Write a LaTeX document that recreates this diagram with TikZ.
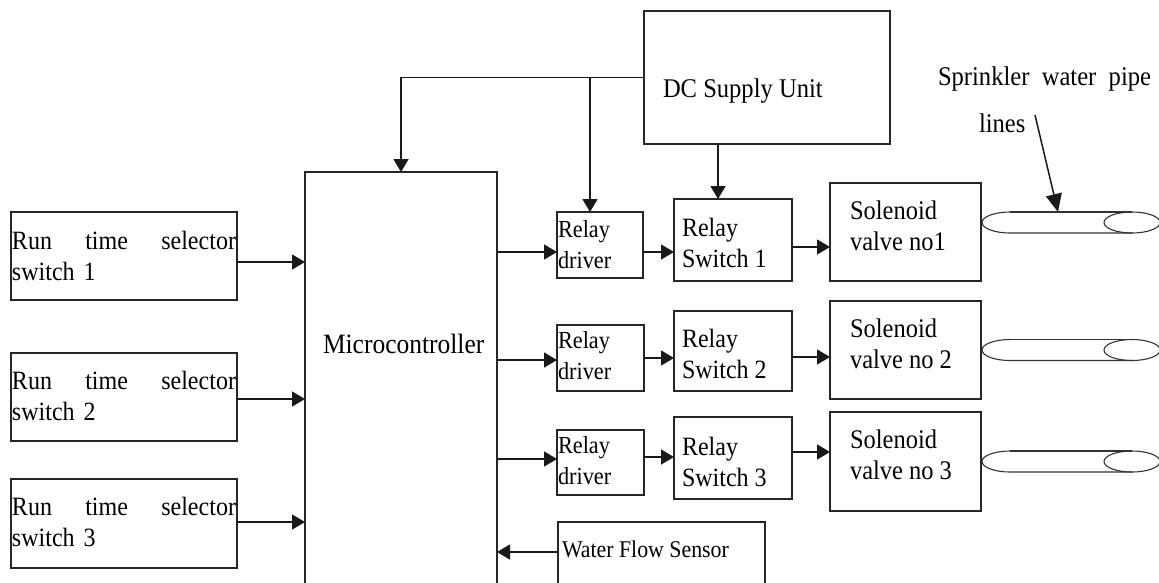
\documentclass[tikz,border=0pt]{standalone}
\usepackage{fontspec}
\setmainfont{Liberation Serif}[FakeStretch=0.91]
\usetikzlibrary{arrows.meta,calc}
\newcommand\fs[1]{\fontsize{#1}{31}\selectfont}
\newcommand\st{\rule{0pt}{22pt}}
\tikzset{
 blk/.style={draw=black!85, line width=1.4pt, inner sep=0pt, outer sep=0pt, anchor=north west},
 tl/.style={anchor=north west, inner sep=0pt, outer sep=0pt, yshift=22pt, align=left},
 arr/.style={draw=black!90, line width=1.5pt, -{Triangle[length=13pt,width=15pt]}},
 bigarr/.style={draw=black!90, line width=1.5pt, -{Triangle[length=18pt,width=16pt]}},
 pipe/.style={draw=black!80, line width=1.1pt},
}
\begin{document}
\begin{tikzpicture}[x=1pt,y=-1pt]
\useasboundingbox (0,0) rectangle (1159,582);
\clip (0,0) rectangle (1159,582);

% boxes
\node[blk, minimum width=226pt, minimum height=88pt] (rts1) at (11,212) {};
\node[blk, minimum width=226pt, minimum height=88pt] (rts2) at (11,353) {};
\node[blk, minimum width=226pt, minimum height=89pt] (rts3) at (11,479) {};
\node[blk, minimum width=192pt, minimum height=430pt] (mc) at (305,172) {};
\node[blk, minimum width=246pt, minimum height=133pt] (dc) at (644,11) {};
\node[blk, minimum width=86pt, minimum height=66pt] (rd1) at (557,212) {};
\node[blk, minimum width=87pt, minimum height=66pt] (rd2) at (557,325) {};
\node[blk, minimum width=87pt, minimum height=65pt] (rd3) at (557,430) {};
\node[blk, minimum width=118pt, minimum height=82pt] (rs1) at (674,199) {};
\node[blk, minimum width=118pt, minimum height=80pt] (rs2) at (674,311) {};
\node[blk, minimum width=118pt, minimum height=82pt] (rs3) at (674,417) {};
\node[blk, minimum width=151pt, minimum height=98pt] (sv1) at (830,183) {};
\node[blk, minimum width=151pt, minimum height=98pt] (sv2) at (830,301) {};
\node[blk, minimum width=151pt, minimum height=99pt] (sv3) at (830,412) {};
\node[blk, minimum width=207pt, minimum height=80pt] (wfs) at (558,522) {};

% texts
\node[tl, text width=224pt, font=\fs{26.4}] (rts1t) at (12,249) {\st Run\hfill time\hfill selector\\switch 1};
\node[tl, text width=224pt, font=\fs{26.4}] (rts2t) at (12,389) {\st Run\hfill time\hfill selector\\switch 2};
\node[tl, text width=224pt, font=\fs{26.4}] (rts3t) at (12,515) {\st Run\hfill time\hfill selector\\switch 3};
\node[tl, font=\fs{28}] (mct) at (323,353) {\st Microcontroller};
\node[tl, font=\fs{27}] (dct) at (663,97) {\st DC Supply Unit};
\node[tl, font=\fs{24.5}] (rd1t) at (558,237) {\st Relay\\driver};
\node[tl, font=\fs{24.5}] (rd2t) at (558,348) {\st Relay\\driver};
\node[tl, font=\fs{24.5}] (rd3t) at (558,453) {\st Relay\\driver};
\node[tl, font=\fs{26.4}] (rs1t) at (682,236) {\st Relay\\Switch 1};
\node[tl, font=\fs{26.4}] (rs2t) at (682,347) {\st Relay\\Switch 2};
\node[tl, font=\fs{26.4}] (rs3t) at (682,455) {\st Relay\\Switch 3};
\node[tl, font=\fs{26.9}] (sv1t) at (850,219) {\st Solenoid\\valve no1};
\node[tl, font=\fs{26.9}] (sv2t) at (850,337) {\st Solenoid\\valve no 2};
\node[tl, font=\fs{26.9}] (sv3t) at (850,448) {\st Solenoid\\valve no 3};
\node[tl, font=\fs{24}] (wfst) at (562,557) {\st Water Flow Sensor};
\node[tl, text width=213pt, font=\fs{27}] (spt) at (938,85) {\st Sprinkler\hfill water\hfill pipe\\[16pt]\hspace*{41pt}lines};

% supply connectors
\draw[arr] (dc.west) -| (mc.north);
\coordinate (j1) at ([xshift=-54pt]dc.west);
\draw[arr] (j1) -- (j1 |- rd1.north);
\coordinate (j2) at ([xshift=-49pt]dc.south);
\draw[arr] (j2) -- (j2 |- rs1.north);

% selectors to microcontroller
\draw[arr] ([yshift=-6pt]rts1.east) -- ([yshift=-6pt]rts1.east -| mc.west);
\draw[arr] ([yshift=-2pt]rts2.east) -- ([yshift=-2pt]rts2.east -| mc.west);
\draw[arr] ([yshift=1.5pt]rts3.east) -- ([yshift=1.5pt]rts3.east -| mc.west);

% microcontroller to relay drivers
\draw[arr] ([yshift=-7pt]rd1.west -| mc.east) -- ([yshift=-7pt]rd1.west);
\draw[arr] ([yshift=-2pt]rd2.west -| mc.east) -- ([yshift=-2pt]rd2.west);
\draw[arr] ([yshift=3.5pt]rd3.west -| mc.east) -- ([yshift=3.5pt]rd3.west);

% drivers to switches
\draw[arr] ([yshift=-7pt]rd1.east) -- ([yshift=-7pt]rd1.east -| rs1.west);
\draw[arr] (rd2.east) -- (rd2.east -| rs2.west);
\draw[arr] ([yshift=5.5pt]rd3.east) -- ([yshift=5.5pt]rd3.east -| rs3.west);

% switches to valves
\draw[arr] ([yshift=-7pt]rs1.east) -- ([yshift=-7pt]rs1.east -| sv1.west);
\draw[arr] ([yshift=-6pt]rs2.east) -- ([yshift=-6pt]rs2.east -| sv2.west);
\draw[arr] ([yshift=6pt]rs3.east) -- ([yshift=6pt]rs3.east -| sv3.west);

% flow sensor
\draw[arr] ([yshift=10pt]wfs.west) -- ([yshift=10pt]wfs.west -| mc.east);

% pipes
\foreach \c in {222.5,350,461.5} {
  \draw[pipe] (1010,\c-10.5) arc[start angle=270,end angle=90,x radius=28,y radius=10.5] -- (1132,\c+10.5);
  \draw[pipe] (1010,\c-10.5) -- (1132,\c-10.5);
  \draw[pipe] (1132,\c) ellipse[x radius=28, y radius=10.5];
}

% sprinkler pointer
\coordinate (sa) at (1035,115);
\coordinate (sb) at (1058,212);
\draw[bigarr] (sa) -- (sb);
\end{tikzpicture}
\end{document}
